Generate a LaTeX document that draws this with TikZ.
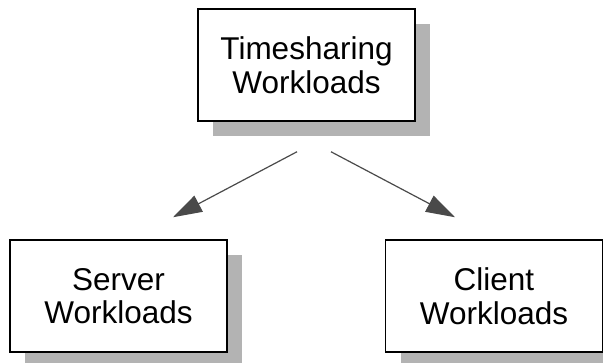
\documentclass[tikz,border=0pt]{standalone}
\usepackage{fontspec}
\setmainfont{Liberation Sans}
\usetikzlibrary{arrows.meta,shadows}
\definecolor{shadegray}{HTML}{B3B3B3}
\definecolor{arrowgray}{HTML}{4A4A4A}
\begin{document}
\begin{tikzpicture}[x=1pt,y=-1pt,
  box/.style={draw=black, line width=1.5pt, fill=white,
    minimum width=217pt, minimum height=112pt, inner sep=0pt,
    align=center, font=\fontsize{31.5}{33.5}\selectfont,
    general shadow={fill=shadegray, draw=none, shadow xshift=15pt, shadow yshift=-15pt}},
  link/.style={draw=arrowgray, line width=1.2pt,
    -{Triangle[length=29pt,width=18pt,fill=arrowgray]}}]
\useasboundingbox (0,0) rectangle (603,363);
\clip (0,0) rectangle (603,363);
\node[box] (ts)  at (306.5,65)  {Timesharing\\Workloads};
\node[box] (srv) at (118.5,296) {Server\\Workloads};
\node[box] (cli) at (494,296)   {Client\\Workloads};
\draw[link] ([xshift=-9.5pt,yshift=-30pt]ts.south) -- ([xshift=54.5pt,yshift=22pt]srv.north);
\draw[link] ([xshift=24.5pt,yshift=-30pt]ts.south) -- ([xshift=-39pt,yshift=22pt]cli.north);
\end{tikzpicture}
\end{document}
